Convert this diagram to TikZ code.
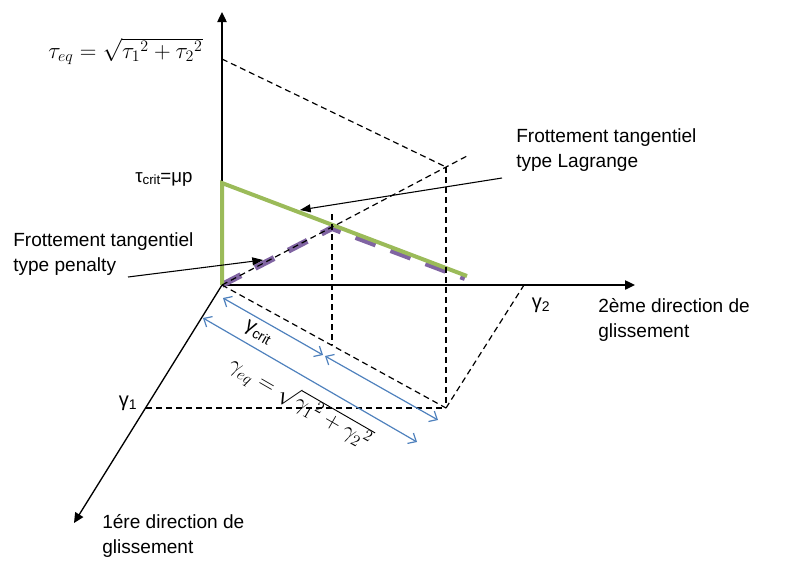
\documentclass[tikz,border=0pt]{standalone}
\usepackage{fontspec}
\setmainfont{Liberation Sans}
\usetikzlibrary{arrows.meta}
\definecolor{ogreen}{RGB}{155,187,89}
\definecolor{opurple}{RGB}{128,100,162}
\definecolor{oblue}{RGB}{79,129,189}
\begin{document}
\begin{tikzpicture}[x=0.75pt,y=-0.75pt,
  axis/.style={line width=1pt,-{Triangle[length=7.5pt,width=7pt]}},
  guide/.style={line width=0.9pt,dash pattern=on 4.5pt off 3pt},
  measure/.style={oblue,line width=0.9pt,{Straight Barb[length=5pt,width=9pt]}-{Straight Barb[length=5pt,width=9pt]}},
  pointer/.style={line width=0.8pt,-{Triangle[length=8pt,width=6pt]}},
  lbl/.style={font=\fontsize{14.3}{18.75}\selectfont,align=left,anchor=base west,inner sep=0pt},
  mathlbl/.style={font=\fontsize{18}{20}\selectfont,inner sep=0pt},
  greek/.style={font=\fontsize{15}{15}\selectfont,inner sep=0pt},
]
\useasboundingbox (0,0) rectangle (789,562);
% points
\coordinate (O) at (222,285);
\coordinate (Ytop) at (222,12);
\coordinate (Xend) at (635,285);
\coordinate (Zend) at (74,523);
\coordinate (Teq) at (222,59);
\coordinate (P) at (446,167);
\coordinate (Pext) at (467,156);
\coordinate (Q) at (446,408);
\coordinate (G1) at (146,408);
\coordinate (G2) at (524,285);
\coordinate (Cr) at (222,183);
\coordinate (Gend) at (467,276);
\coordinate (Mtop) at (332,214);
\coordinate (Mbot) at (332,345);
\coordinate (Ppeak) at (332,228);
\coordinate (Pend) at (465,278);
\coordinate (B1s) at (223,298);
\coordinate (B1e) at (323,355);
\coordinate (B2s) at (325,356);
\coordinate (B2e) at (438,420);
\coordinate (B3s) at (203,318);
\coordinate (B3e) at (417,442);
\coordinate (La) at (502,178);
\coordinate (Lb) at (300,210);
\coordinate (Pa) at (128,277);
\coordinate (Pb) at (263,260);
% axes
\draw[axis] (O) -- (Ytop);
\draw[axis] (O) -- (Xend);
\draw[axis] (O) -- (Zend);
% friction laws
\draw[opurple,line width=4.5pt,dash pattern=on 16pt off 12pt] (O) -- (Ppeak) -- (Pend);
\draw[ogreen,line width=3pt] (O) -- (Cr) -- (Gend);
% construction lines
\draw[guide] (Teq) -- (P);
\draw[guide] (O) -- (Pext);
\draw[guide] (P) -- (Q);
\draw[guide] (G1) -- (Q);
\draw[guide] (O) -- (Q);
\draw[guide] (Q) -- (G2);
\draw[guide] (Mtop) -- (Mbot);
% measures
\draw[measure] (B1s) -- (B1e);
\draw[measure] (B2s) -- (B2e);
\draw[measure] (B3s) -- (B3e);
% pointers
\draw[pointer] (La) -- (Lb);
\draw[pointer] (Pa) -- (Pb);
% labels
\node[mathlbl,anchor=base west] (teq) at (48,58) {$\tau_{eq}=\sqrt{{\tau_1}^2+{\tau_2}^2}$};
\node[greek,anchor=base west,font=\fontsize{14}{14}\selectfont] (tcrit) at (135,182) {τ\raisebox{-0.25ex}{\fontsize{10}{10}\selectfont crit}=μp};
\node[lbl] (lag) at (516,167) {Frottement tangentiel\\type Lagrange};
\node[lbl] (pen) at (13,271) {Frottement tangentiel\\type penalty};
\node[lbl] (dir2) at (598,337) {2ème direction de\\glissement};
\node[lbl] (dir1) at (102,553) {1ére direction de\\glissement};
\node[greek] (g2) at (541,305) {γ\textsubscript{2}};
\node[greek] (g1) at (128,403) {γ\textsubscript{1}};
\node[greek,rotate=-30,font=\fontsize{15}{15}\selectfont] (gcrit) at (258,333) {γ\raisebox{-0.3ex}{\fontsize{10.5}{10.5}\selectfont crit}};
\node[mathlbl,rotate=-30,font=\fontsize{17}{19}\selectfont] (geq) at (300,403) {$\gamma_{eq}=\sqrt{{\gamma_1}^2+{\gamma_2}^2}$};
\end{tikzpicture}
\end{document}
